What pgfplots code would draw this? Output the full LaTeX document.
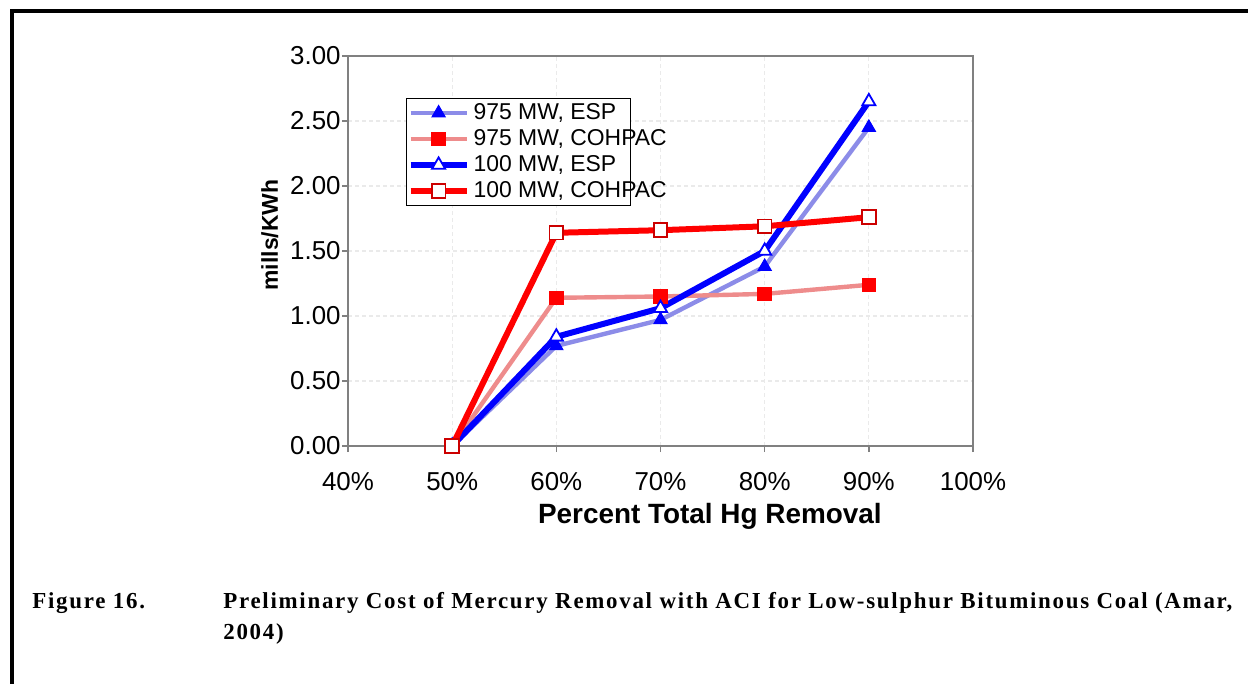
\documentclass[border=0pt]{standalone}
\usepackage{fontspec}
\setmainfont{Liberation Sans}
\newfontfamily\capfont[LetterSpace=7.5]{Liberation Serif}
\usepackage{pgfplots}
\pgfplotsset{compat=1.18}

\definecolor{espdark}{RGB}{0,0,255}
\definecolor{esplight}{RGB}{140,140,232}
\definecolor{cohdark}{RGB}{255,0,0}
\definecolor{cohlight}{RGB}{238,140,140}
\definecolor{axisgray}{RGB}{128,128,128}
\definecolor{gridgray}{RGB}{234,234,234}

\begin{document}
\begin{tikzpicture}[x=1bp,y=1bp]
\useasboundingbox (0,0) rectangle (624,341.5);
% page frame
\draw[line width=2bp] (6,-2) -- (6,336) -- (626,336);

\begin{axis}[
  at={(174bp,118.5bp)}, anchor=south west,
  scale only axis, width=312.5bp, height=195bp,
  xmin=40, xmax=100, ymin=0, ymax=3,
  xtick={40,50,60,70,80,90,100},
  xticklabels={40\%,50\%,60\%,70\%,80\%,90\%,100\%},
  ytick={0,0.5,1,1.5,2,2.5,3},
  /pgf/number format/assume math mode=true,
  ticklabel style={font=\fontsize{13}{14}\selectfont},
  yticklabel style={/pgf/number format/fixed, /pgf/number format/fixed zerofill,
    /pgf/number format/precision=2, inner sep=0.5bp},
  xticklabel style={yshift=-6.5bp},
  tick align=outside, xtick pos=bottom, ytick pos=left,
  major tick length=3bp,
  tick style={axisgray, line width=0.8bp},
  axis line style={axisgray, line width=1bp},
  grid=major,
  major grid style={gridgray, line width=0.6bp, dash pattern=on 2bp off 1.5bp},
  xlabel={Percent Total Hg Removal},
  xlabel style={font=\fontsize{14}{16}\selectfont\bfseries,
    at={(axis description cs:0.579,-0.18)}, anchor=center},
  ylabel={mills/KWh},
  ylabel style={font=\fontsize{11.5}{13}\selectfont\bfseries,
    at={(axis description cs:-0.125,0.541)}, anchor=center},
  legend style={at={(axis description cs:0.0928,0.8923)}, anchor=north west,
    draw=black, line width=0.6bp, fill=white,
    font=\fontsize{11.5}{12.5}\selectfont, inner sep=0.5bp, row sep=-0.5bp,
    cells={anchor=west}},
  legend image code/.code={%
    \draw[mark repeat=2,mark phase=2] plot coordinates {(0bp,0bp) (14bp,0bp) (28bp,0bp)};},
]
\addplot[color=esplight, line width=2.2bp, mark=triangle*, mark size=3.8bp,
  mark options={fill=espdark, draw=espdark, line width=0.5bp}]
  coordinates {(50,0) (60,0.77) (70,0.97) (80,1.38) (90,2.45)};
\addlegendentry{\makebox[76bp][l]{975 MW, ESP}}

\addplot[color=cohlight, line width=2.2bp, mark=square*, mark size=3.4bp,
  mark options={fill=cohdark, draw=cohdark, line width=0.5bp}]
  coordinates {(50,0) (60,1.14) (70,1.15) (80,1.17) (90,1.24)};
\addlegendentry{\makebox[76bp][l]{975 MW, COHPAC}}

\addplot[color=espdark, line width=3bp, mark=triangle*, mark size=3.8bp,
  mark options={fill=white, draw=espdark, line width=0.9bp}]
  coordinates {(50,0) (60,0.84) (70,1.06) (80,1.50) (90,2.65)};
\addlegendentry{\makebox[76bp][l]{100 MW, ESP}}

\addplot[color=cohdark, line width=3bp, mark=square*, mark size=3.4bp,
  mark options={fill=white, draw=cohdark!80!black, line width=0.9bp}]
  coordinates {(50,0) (60,1.64) (70,1.66) (80,1.69) (90,1.76)};
\addlegendentry{\makebox[76bp][l]{100 MW, COHPAC}}
\end{axis}

% caption
\node[anchor=base west, inner sep=0, font=\capfont\bfseries\fontsize{11.5}{13}\selectfont]
  at (16,37.5) {Figure 16.};
\node[anchor=base west, inner sep=0, font=\capfont\bfseries\fontsize{11.5}{13}\selectfont]
  at (111.5,37.5) {Preliminary Cost of Mercury Removal with ACI for Low-sulphur Bituminous Coal (Amar,};
\node[anchor=base west, inner sep=0, font=\capfont\bfseries\fontsize{11.5}{13}\selectfont]
  at (111.5,22) {2004)};
\end{tikzpicture}
\end{document}
